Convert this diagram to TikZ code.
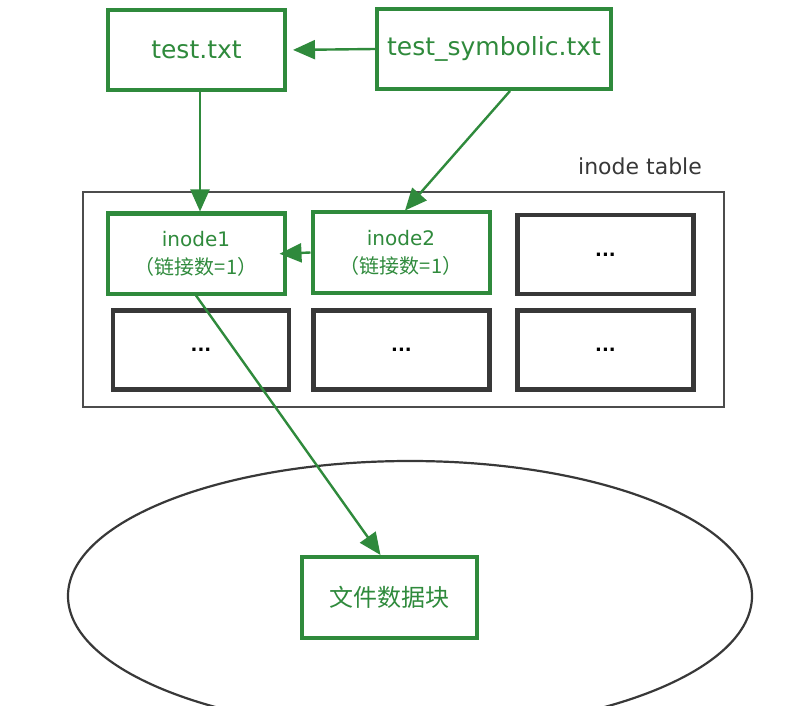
\documentclass[tikz,border=0pt]{standalone}
\usepackage{fontspec}
\setmainfont{DejaVu Sans}
\newfontfamily\cjk{Noto Sans CJK SC}
\usetikzlibrary{arrows.meta}
\definecolor{linkgreen}{HTML}{2F8A3C}
\definecolor{slotgray}{HTML}{383838}
\tikzset{
  filebox/.style={draw=linkgreen, line width=4pt, text=linkgreen, minimum width=177pt, minimum height=80pt, font=\fontsize{25}{28}\selectfont},
  slotbox/.style={draw=slotgray, line width=4.4pt, minimum width=176pt, minimum height=79pt, font=\bfseries\fontsize{18}{22}\selectfont},
  link/.style={draw=linkgreen, line width=2.4pt, -{Triangle[length=22pt,width=19pt]}}
}

\begin{document}
\begin{tikzpicture}[x=1pt, y=-1pt]
		\useasboundingbox (0,0) rectangle (785,706);

		% the two directory entries
		\node [filebox] (test) at (196.5, 50) {test.txt};
		\node [filebox, minimum width=234pt] (sym) at (494, 49) {test\_symbolic.txt};

		% inode table with six slots
		\draw [draw=slotgray!90, line width=2pt] (83, 192) rectangle (724, 407);
		\node [font=\fontsize{22}{26}\selectfont, text=slotgray] (tabname) at (640, 166) {inode table};
		\node [filebox, align=center, font=\fontsize{20}{28}\selectfont] (inode1) at (196, 253.5) {inode1\\{\cjk （链接数=1）}};
		\node [filebox, align=center, font=\fontsize{20}{28}\selectfont] (inode2) at (401, 252.5) {inode2\\{\cjk （链接数=1）}};
		\node [slotbox] (slot3) at (605.5, 254.5) {...};
		\node [slotbox] (slot4) at (201, 350) {...};
		\node [slotbox] (slot5) at (401.5, 350) {...};
		\node [slotbox] (slot6) at (605.5, 350) {...};

		% data area
		\draw [draw=slotgray, line width=2.2pt] (410, 596) ellipse (342 and 135);
		\node [filebox, minimum width=175pt, minimum height=81pt, font=\cjk\fontsize{24}{28}\selectfont] (data) at (389.5, 597.5) {文件数据块};

		% links
		\draw [link, shorten >=6pt] (sym.west) -- (test.east);
		\draw [link] ([xshift=3.5pt]test.south) -- ([xshift=4pt]inode1.north);
		\draw [link] ([xshift=16pt]sym.south) -- ([xshift=4pt]inode2.north);
		\draw [link, shorten >=-7pt] (inode2.west) -- (inode1.east);
		\draw [link] (inode1.south) -- ([xshift=-9pt]data.north);
	\end{tikzpicture}
\end{document}
